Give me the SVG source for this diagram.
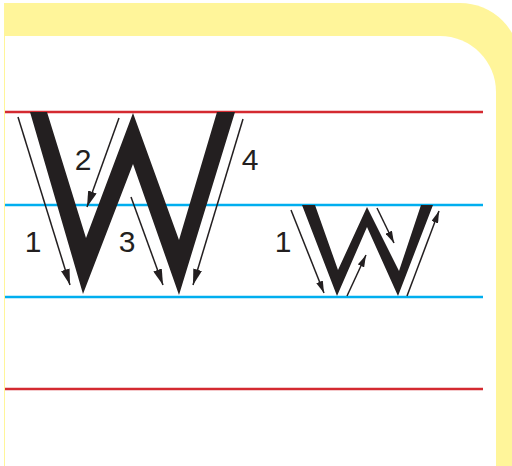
<svg xmlns="http://www.w3.org/2000/svg" width="512" height="466" viewBox="0 0 512 466">
<style>
.red{stroke:#d42a30;stroke-width:2.5;fill:none}
.blue{stroke:#00aeef;stroke-width:2.5;fill:none}
.letter{fill:#231f20}
.arr{stroke:#231f20;stroke-width:1.5;fill:none}
.big{marker-end:url(#hb)}
.sm{marker-end:url(#hs)}
.num{font-family:"Liberation Sans",Arial,sans-serif;font-size:30px;fill:#231f20;text-anchor:middle}
</style>
<defs>
<marker id="hb" markerUnits="userSpaceOnUse" markerWidth="16" markerHeight="9" refX="16" refY="4.5" orient="auto">
<path d="M0,0 L16,4.5 L0,9 Z" fill="#231f20"/>
</marker>
<marker id="hs" markerUnits="userSpaceOnUse" markerWidth="12" markerHeight="7" refX="12" refY="3.5" orient="auto">
<path d="M0,0 L12,3.5 L0,7 Z" fill="#231f20"/>
</marker>
</defs>
<g id="frame">
<path d="M4,3 H460 A60,60 0 0 1 520,63 V466 H4 Z" fill="#fff59a"/>
<path d="M5,36 H440 A56,56 0 0 1 496,92 V466 H5 Z" fill="#ffffff"/>
</g>
<g id="guides">
<line class="red" x1="5" y1="112" x2="483" y2="112"/>
<line class="blue" x1="5" y1="205" x2="483" y2="205"/>
<line class="blue" x1="5" y1="297" x2="483" y2="297"/>
<line class="red" x1="5" y1="389" x2="483" y2="389"/>
</g>
<g id="big-W">
<path class="letter" d="M30,112 L47,112 L86,238 L133,113 L179,240 L217,112 L235,112 L179,295 L133,164 L83,294 Z"/>
</g>
<g id="small-w">
<path class="letter" d="M302,205 L315,205 L338,270 L367,207 L399,271 L421,205 L433,205 L398,296 L367,227 L337,296 Z"/>
</g>
<g id="connectors">
<line class="arr big" x1="18" y1="117" x2="70" y2="285"/>
<line class="arr big" x1="119" y1="118" x2="87" y2="207"/>
<line class="arr big" x1="131" y1="197" x2="163" y2="285"/>
<line class="arr big" x1="243" y1="119" x2="193" y2="285"/>
<line class="arr sm" x1="291" y1="210" x2="324" y2="293"/>
<line class="arr sm" x1="347" y1="296" x2="366" y2="255"/>
<line class="arr sm" x1="377" y1="208" x2="394" y2="243"/>
<line class="arr sm" x1="407" y1="296" x2="439" y2="211"/>
</g>
<g id="labels">
<text class="num" x="33" y="252">1</text>
<text class="num" x="83" y="170">2</text>
<text class="num" x="127" y="252">3</text>
<text class="num" x="250" y="170">4</text>
<text class="num" x="283" y="252">1</text>
</g>
</svg>
